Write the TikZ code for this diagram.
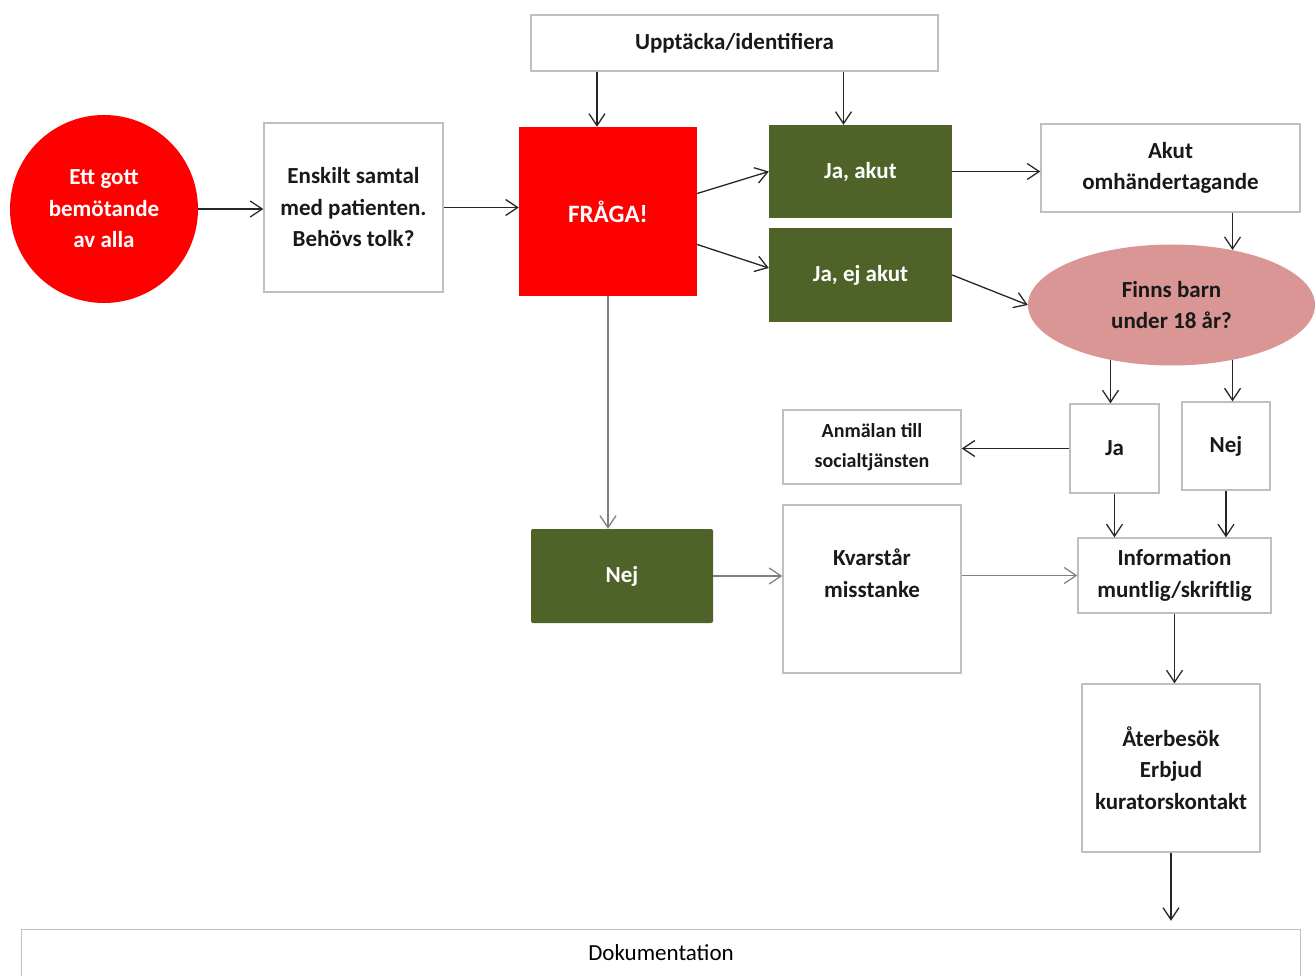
\documentclass[tikz,border=0pt]{standalone}
\usepackage{fontspec}
\setmainfont{Carlito}
\usepackage{xcolor}
\definecolor{flowRed}{RGB}{255,0,0}
\definecolor{flowGreen}{RGB}{79,98,40}
\definecolor{flowPink}{RGB}{217,150,148}
\definecolor{flowGray}{RGB}{191,191,191}
\usetikzlibrary{arrows.meta,positioning,shapes.geometric,calc}

\begin{document}
\begin{tikzpicture}[x=1pt, y=-1pt,
  txt/.style={font=\fontsize{23}{31.5}\selectfont\bfseries, align=center, inner sep=0pt},
  box/.style={txt, draw=flowGray, line width=1.3pt, fill=white, text=black!90},
  greenbox/.style={txt, fill=flowGreen, text=white},
  arr/.style={-{Straight Barb[length=12pt,width=16pt]}, line width=1.3pt, black!85},
  grayarr/.style={arr, black!50}
]
  \useasboundingbox (0,0) rectangle (1315,976);

  \node[txt, circle, fill=flowRed, text=white, minimum size=188] (bemot) at (104,209) {Ett gott\\bemötande\\av alla};
  \node[box, minimum width=179, minimum height=169] (samtal) at (353.5,207.5) {Enskilt samtal\\med patienten.\\Behövs tolk?};
  \node[box, minimum width=407, minimum height=56] (upptacka) at (734.5,43) {Upptäcka/identifiera};
  \node[txt, fill=flowRed, text=white, minimum width=178, minimum height=169,
        font=\fontsize{25}{31}\selectfont\bfseries] (fraga) at (608,211.5) {FRÅGA!};
  \node[greenbox, minimum width=183, minimum height=93] (jaakut) at (860.5,171.5) {Ja, akut};
  \node[greenbox, minimum width=183, minimum height=94] (jaej) at (860.5,275) {Ja, ej akut};
  \node[box, minimum width=259, minimum height=88] (akut) at (1170.5,168) {Akut\\omhändertagande};
  \node[txt, ellipse, fill=flowPink, text=black!90, minimum width=287, minimum height=121] (barn) at (1171.5,305) {Finns barn\\under 18 år?};
  \node[box, minimum width=89, minimum height=89] (ja) at (1114.5,448.5) {Ja};
  \node[box, minimum width=88, minimum height=88] (nej) at (1226,446) {Nej};
  \node[box, minimum width=178, minimum height=74,
        font=\fontsize{20}{30}\selectfont\bfseries] (anmalan) at (872,447) {Anmälan till\\socialtjänsten};
  \node[greenbox, rounded corners=2pt, minimum width=182, minimum height=94] (nejgron) at (622,576) {Nej};
  \node[box, minimum width=178, minimum height=168] (kvarstar) at (872,589) {Kvarstår\\misstanke\\\mbox{}};
  \node[box, minimum width=193, minimum height=75] (info) at (1174.5,575.5) {Information\\muntlig/skriftlig};
  \node[box, minimum width=178, minimum height=168] (ater) at (1171,768) {Återbesök\\Erbjud\\kuratorskontakt};
  \node[txt, font=\fontsize{23}{31.5}\selectfont, minimum width=1278, minimum height=46] (dok) at (661,953) {Dokumentation};
  \draw[flowGray, line width=1.3pt] (dok.south west) -- (dok.north west) -- (dok.north east) -- (dok.south east);

  \coordinate (infraga) at ($(fraga.north)+(-11,0)$);
  \coordinate (injaakut) at ($(jaakut.north)+(-17,0)$);

  \draw[arr] (bemot.east) -- (bemot.east -| samtal.west);
  \draw[arr] (samtal.east) -- (samtal.east -| fraga.west);
  \draw[arr] (infraga |- upptacka.south) -- (infraga);
  \draw[arr] (injaakut |- upptacka.south) -- (injaakut);
  \draw[arr] ([yshift=18pt]fraga.east) -- (jaakut.west);
  \draw[arr] ([yshift=-33pt]fraga.east) -- ([yshift=7pt]jaej.west);
  \draw[arr] (jaakut.east) -- (jaakut.east -| akut.west);
  \draw[arr] (jaej.east) -- (barn.west);
  \draw[arr] (barn.42 |- akut.south) -- (barn.42);
  \draw[arr] (barn.-138) -- (barn.-138 |- ja.north);
  \draw[arr] (barn.-42) -- (barn.-42 |- nej.north);
  \draw[arr] (ja.west) -- (ja.west -| anmalan.east);
  \draw[grayarr] (fraga.south) -- (fraga.south |- nejgron.north);
  \draw[grayarr] (nejgron.east) -- (nejgron.east -| kvarstar.west);
  \draw[grayarr] (kvarstar.east |- info.west) -- (info.west);
  \draw[arr] (ja.south) -- (ja.south |- info.north);
  \draw[arr] (nej.south) -- (nej.south |- info.north);
  \draw[arr] (info.south) -- (info.south |- ater.north);
  \draw[arr] (ater.south) -- ([yshift=9pt]ater.south |- dok.north);
\end{tikzpicture}
\end{document}
